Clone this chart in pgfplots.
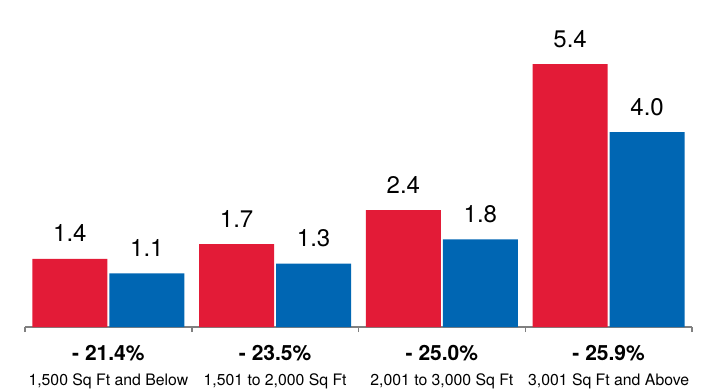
\documentclass[border=0pt]{standalone}
\usepackage{fontspec}
\setmainfont{TeX Gyre Heros}
\usepackage{pgfplots}
\pgfplotsset{compat=1.18}
\definecolor{barred}{RGB}{227,27,55}
\definecolor{barblue}{RGB}{0,102,179}
\definecolor{axgray}{RGB}{128,128,128}
\begin{document}
\begin{tikzpicture}
\useasboundingbox (0,0) rectangle (707pt,389pt);
\begin{axis}[
  at={(25pt,62pt)}, anchor=south west,
  scale only axis, width=667pt, height=292.2pt,
  xmin=-0.5, xmax=3.5, ymin=0, ymax=6,
  clip=false,
  /pgf/number format/assume math mode=true,
  axis y line=none,
  axis x line*=bottom,
  x axis line style={axgray, line width=2pt, -},
  xtick={-0.5,0.5,1.5,2.5,3.5}, xticklabels={},
  tick align=outside, tick pos=bottom,
  major tick length=5pt,
  every tick/.style={axgray, line width=1.5pt},
  ytick=\empty,
  ybar=2pt, bar width=75pt,
  nodes near coords={\pgfmathprintnumber[fixed,fixed zerofill,precision=1,assume math mode=true]{\pgfplotspointmeta}},
  every node near coord/.append style={font=\fontsize{24}{24}\selectfont, inner sep=0pt, anchor=base, yshift=17pt, black},
]
\addplot[fill=barred, draw=none] coordinates {(0,1.4) (1,1.7) (2,2.4) (3,5.4)};
\addplot[fill=barblue, draw=none] coordinates {(0,1.1) (1,1.3) (2,1.8) (3,4.0)};
\path (axis cs:0,0) node[anchor=base, yshift=-33pt, inner sep=0pt, font=\fontsize{21}{21}\selectfont\bfseries] {- 21.4\%};
\path (axis cs:1,0) node[anchor=base, yshift=-33pt, inner sep=0pt, font=\fontsize{21}{21}\selectfont\bfseries] {- 23.5\%};
\path (axis cs:2,0) node[anchor=base, yshift=-33pt, inner sep=0pt, font=\fontsize{21}{21}\selectfont\bfseries] {- 25.0\%};
\path (axis cs:3,0) node[anchor=base, yshift=-33pt, inner sep=0pt, font=\fontsize{21}{21}\selectfont\bfseries] {- 25.9\%};
\path (axis cs:0,0) node[anchor=base, yshift=-58pt, inner sep=0pt, font=\fontsize{15.8}{15.8}\selectfont] {1,500 Sq Ft and Below};
\path (axis cs:1,0) node[anchor=base, yshift=-58pt, inner sep=0pt, font=\fontsize{15.8}{15.8}\selectfont] {1,501 to 2,000 Sq Ft};
\path (axis cs:2,0) node[anchor=base, yshift=-58pt, inner sep=0pt, font=\fontsize{15.8}{15.8}\selectfont] {2,001 to 3,000 Sq Ft};
\path (axis cs:3,0) node[anchor=base, yshift=-58pt, inner sep=0pt, font=\fontsize{15.8}{15.8}\selectfont] {3,001 Sq Ft and Above};
\end{axis}
\end{tikzpicture}
\end{document}
